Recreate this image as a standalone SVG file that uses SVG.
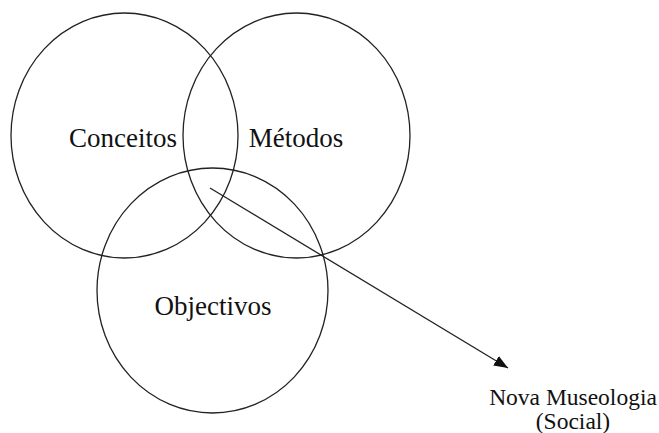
<svg xmlns="http://www.w3.org/2000/svg" width="659" height="433" viewBox="0 0 659 433">
<defs>
<style>
.c{fill:none;stroke:#222;stroke-width:1.3}
.t{font-family:"Liberation Serif","Times New Roman",serif;fill:#111;text-anchor:middle}
.e{stroke:#222;stroke-width:1.3;fill:none}
</style>
<marker id="ah" viewBox="0 0 14 11" refX="14" refY="5.5" markerWidth="14" markerHeight="11" markerUnits="userSpaceOnUse" orient="auto">
<path d="M0,0 L14,5.5 L0,11 Z" fill="#111"/>
</marker>
</defs>
<rect width="659" height="433" fill="#fff"/>
<g id="conceitos">
<ellipse class="c" cx="124.5" cy="135.5" rx="113.5" ry="122.5"/>
<text class="t" x="123" y="146.5" font-size="27">Conceitos</text>
</g>
<g id="metodos">
<ellipse class="c" cx="296.5" cy="135.5" rx="113.5" ry="122.5"/>
<text class="t" x="296" y="146.5" font-size="27">Métodos</text>
</g>
<g id="objectivos">
<ellipse class="c" cx="212.5" cy="290.5" rx="115.5" ry="122.5"/>
<text class="t" x="213" y="315" font-size="27">Objectivos</text>
</g>
<g id="nova-museologia">
<text class="t" x="573" y="405" font-size="23.5">Nova Museologia</text>
<text class="t" x="573" y="429" font-size="23.5">(Social)</text>
</g>
<g id="connectors">
<line class="e" x1="210" y1="188" x2="508" y2="368" marker-end="url(#ah)"/>
</g>
</svg>
